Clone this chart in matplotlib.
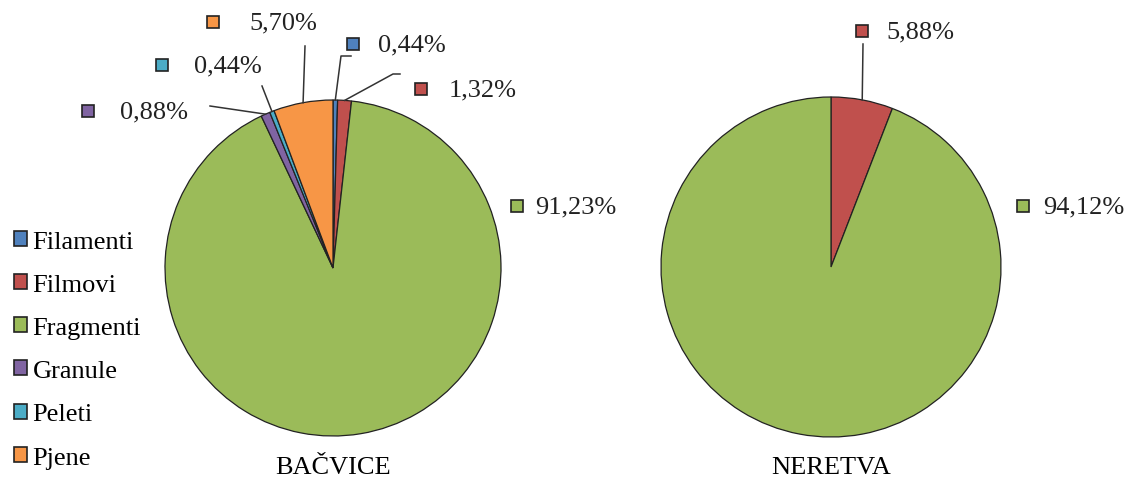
import numpy as np
import matplotlib.pyplot as plt

plt.rcParams['font.family'] = 'serif'
plt.rcParams['font.serif'] = ['Liberation Serif', 'DejaVu Serif']

# podaci
kategorije = ['Filamenti', 'Filmovi', 'Fragmenti', 'Granule', 'Peleti', 'Pjene']
boje = ['#4F81BD', '#C0504D', '#9BBB59', '#8064A2', '#4BACC6', '#F79646']
bacvice = [0.44, 1.32, 91.23, 0.88, 0.44, 5.70]
neretva_kat = ['Filmovi', 'Fragmenti']
neretva = [5.88, 94.12]

W, H = 1136, 481
FS = 19
fig = plt.figure(figsize=(W / 100, H / 100), dpi=100)
ax = fig.add_axes([0, 0, 1, 1])


def y(p):
    # piksel odozgo -> koordinata odozdo
    return H - p


def pita(vrijednosti, kat, centar, r, oznake, linije, naslov):
    cols = [boje[kategorije.index(k)] for k in kat]
    wedges, _ = ax.pie(vrijednosti, colors=cols, startangle=90, counterclock=False,
                       center=(centar[0], y(centar[1])), radius=r, frame=True,
                       wedgeprops=dict(edgecolor='#222222', linewidth=0.9))
    for k, v in zip(kat, vrijednosti):
        mx, tx, ty = oznake[k]
        ax.plot(mx, y(ty), 's', ms=9, mfc=boje[kategorije.index(k)], mec='#222222', mew=1.2)
        ax.text(tx, y(ty), f'{v:.2f}%'.replace('.', ','), fontsize=FS,
                va='center', ha='left', color='#222222')
    for w, k in zip(wedges, kat):
        if k not in linije:
            continue
        kut = np.deg2rad((w.theta1 + w.theta2) / 2)
        x0 = w.center[0] + r * np.cos(kut)
        y0 = w.center[1] + r * np.sin(kut)
        tocke = linije[k]
        xs = [x0] + [p[0] for p in tocke]
        ys = [y0] + [y(p[1]) for p in tocke]
        ax.plot(xs, ys, color='#333333', lw=1.1)
    ax.text(centar[0], y(468), naslov, fontsize=FS, ha='center', va='center')
    return wedges


w1 = pita(bacvice, kategorije, (333, 269), 168,
          {'Filamenti': (353, 378, 45), 'Filmovi': (421, 449, 90),
           'Fragmenti': (517, 535, 207), 'Granule': (88, 120, 112),
           'Peleti': (162, 194, 66), 'Pjene': (213, 249, 23)},
          {'Filamenti': [(341, 57), (351, 57)], 'Filmovi': [(393, 75), (400, 75)],
           'Granule': [(210, 107)], 'Peleti': [(262, 87)], 'Pjene': [(305, 47)]},
          'BAČVICE')

pita(neretva, neretva_kat, (831, 268), 170,
     {'Filmovi': (862, 886, 32), 'Fragmenti': (1023, 1043, 207)},
     {'Filmovi': [(863, 45)]},
     'NERETVA')

ax.set_xlim(0, W)
ax.set_ylim(0, H)
ax.set_aspect('auto')
ax.axis('off')

leg = ax.legend(w1, kategorije, loc='upper left', bbox_to_anchor=(14 / W, 1 - 232 / H),
                frameon=False, fontsize=FS, handlelength=0.5, handleheight=0.5,
                handletextpad=0.2, labelspacing=0.8, borderpad=0, borderaxespad=0)
for h in leg.legend_handles:
    h.set_linewidth(1.2)

fig.savefig('out.png', dpi=100)
